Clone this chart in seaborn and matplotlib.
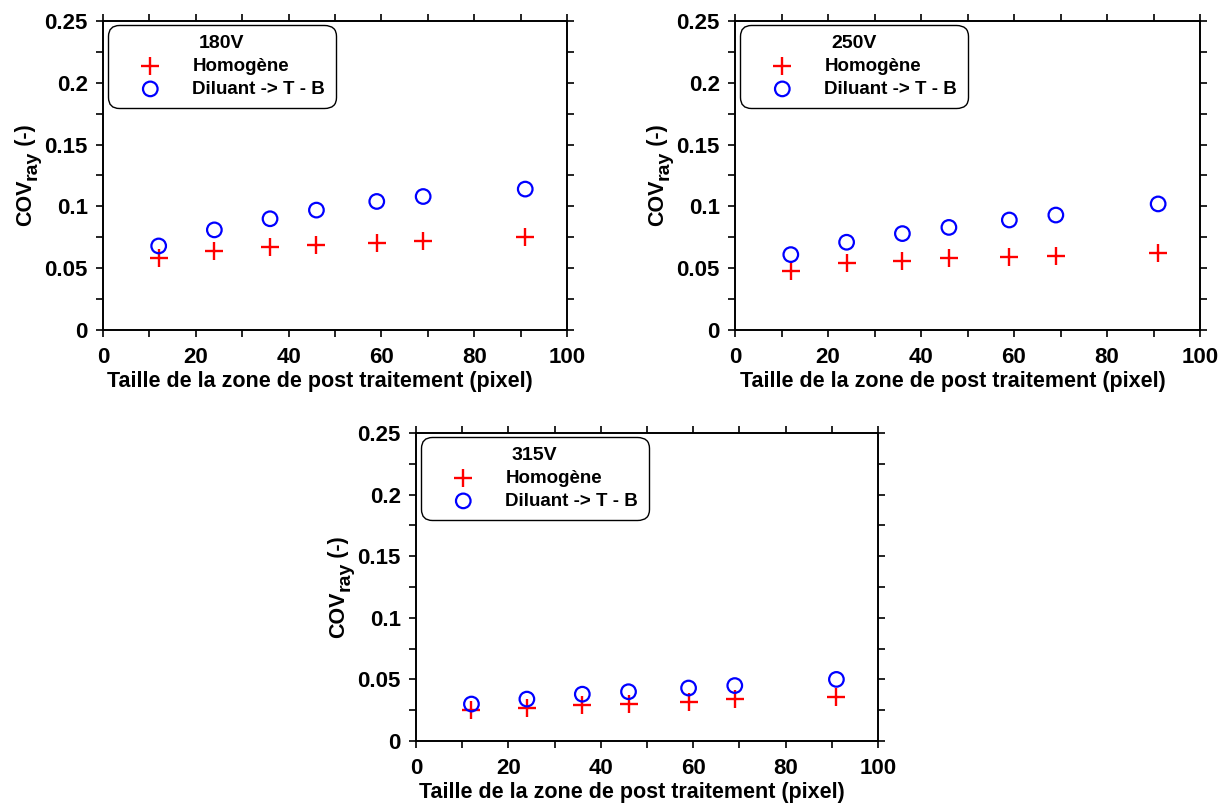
import matplotlib
matplotlib.use("Agg")
import numpy as np
import pandas as pd
import seaborn as sns
import matplotlib.pyplot as plt
from matplotlib.ticker import MultipleLocator
from matplotlib.transforms import offset_copy

# Données
taille_zone = [12, 24, 36, 46, 59, 69, 91]

homogene_180 = [0.058, 0.064, 0.067, 0.069, 0.070, 0.072, 0.075]
diluant_180 = [0.068, 0.081, 0.090, 0.097, 0.104, 0.108, 0.114]

homogene_250 = [0.048, 0.054, 0.056, 0.058, 0.059, 0.060, 0.062]
diluant_250 = [0.061, 0.071, 0.078, 0.083, 0.089, 0.093, 0.102]

homogene_315 = [0.025, 0.027, 0.029, 0.030, 0.032, 0.034, 0.036]
diluant_315 = [0.030, 0.034, 0.038, 0.040, 0.043, 0.045, 0.050]

tensions = ["180V", "250V", "315V"]
series_homogene = [homogene_180, homogene_250, homogene_315]
series_diluant = [diluant_180, diluant_250, diluant_315]

y_ticks = [0, 0.05, 0.1, 0.15, 0.2, 0.25]
y_tick_labels = ["0", "0.05", "0.1", "0.15", "0.2", "0.25"]

sns.set_theme(style="ticks")
plt.rcParams["font.family"] = ["Liberation Sans", "DejaVu Sans"]
plt.rcParams["font.weight"] = "bold"
plt.rcParams["text.color"] = "black"
plt.rcParams["axes.labelcolor"] = "black"
plt.rcParams["xtick.color"] = "black"
plt.rcParams["ytick.color"] = "black"

fig = plt.figure(figsize=(12.21, 8.05), dpi=100)
positions = [
    [103 / 1221, 1 - 330 / 805, 464 / 1221, 309 / 805],
    [735 / 1221, 1 - 330 / 805, 465 / 1221, 309 / 805],
    [416 / 1221, 1 - 741 / 805, 462 / 1221, 308 / 805],
]

ylabel_parts = []
for pos, tension, y_homo, y_dil in zip(positions, tensions, series_homogene, series_diluant):
    ax = fig.add_axes(pos)
    df = pd.DataFrame({"x": taille_zone, "homo": y_homo, "dil": y_dil})

    sns.scatterplot(data=df, x="x", y="homo", ax=ax, marker="+", s=150,
                    color="red", linewidth=1.7, label="Homogène", zorder=3)
    sns.scatterplot(data=df, x="x", y="dil", ax=ax, marker="o", s=110,
                    facecolors="none", edgecolor="blue", linewidth=1.6,
                    label="Diluant -> T - B", zorder=3)

    ax.set_xlim(0, 100)
    ax.set_ylim(0, 0.25)
    ax.xaxis.set_major_locator(MultipleLocator(20))
    ax.xaxis.set_minor_locator(MultipleLocator(10))
    ax.yaxis.set_minor_locator(MultipleLocator(0.025))
    ax.set_yticks(y_ticks)
    ax.set_yticklabels(y_tick_labels)

    for side in ["top", "right", "bottom", "left"]:
        ax.spines[side].set_visible(True)
        ax.spines[side].set_linewidth(1.4)
        ax.spines[side].set_color("black")
    ax.tick_params(which="both", direction="out", top=True, right=True,
                   width=1.2, length=5, color="black")
    ax.tick_params(axis="x", which="major", labelsize=16, pad=7)
    ax.tick_params(axis="y", which="major", labelsize=16, pad=6)
    for lab in ax.get_xticklabels() + ax.get_yticklabels():
        lab.set_fontweight("bold")

    ax.set_xlabel("Taille de la zone de post traitement (pixel)",
                  fontsize=15.5, fontweight="bold")
    ax.xaxis.set_label_coords(0.468, -0.132)
    ax.set_ylabel("")

    # ylabel COV_ray (-) composé de morceaux pour un indice plus grand
    parts = []
    for txt, size, dx in [("COV", 15.5, 0), ("ray", 14, 6), ("\u2009(-)", 15.5, 0)]:
        t = ax.text(0, 0.5, txt, rotation=90, rotation_mode="anchor",
                    ha="left", va="baseline", fontsize=size, fontweight="bold",
                    transform=ax.transAxes)
        parts.append((t, dx))
    ylabel_parts.append((ax, parts))

    leg = ax.legend(loc="upper left", title=tension, frameon=True, fancybox=True,
                    fontsize=13.5, title_fontproperties={"weight": "bold", "size": 14},
                    borderpad=0.55, handlelength=3.4, handletextpad=0.55,
                    labelspacing=0.3, bbox_to_anchor=(0.011, 0.987),
                    borderaxespad=0.0)
    frame = leg.get_frame()
    frame.set_edgecolor("black")
    frame.set_linewidth(1.0)
    frame.set_alpha(1)
    frame.set_boxstyle("round", pad=0, rounding_size=0.6)
    for t in leg.get_texts():
        t.set_fontweight("bold")

# placement des morceaux du ylabel
fig.canvas.draw()
renderer = fig.canvas.get_renderer()
for ax, parts in ylabel_parts:
    lengths = [t.get_window_extent(renderer).height for t, _ in parts]
    start = -sum(lengths) / 2
    base_x = -72
    y = start
    for (t, dx), h in zip(parts, lengths):
        t.set_transform(offset_copy(ax.transAxes, fig=fig, x=base_x + dx, y=y, units="dots"))
        y += h

fig.savefig("out.png", dpi=100)
